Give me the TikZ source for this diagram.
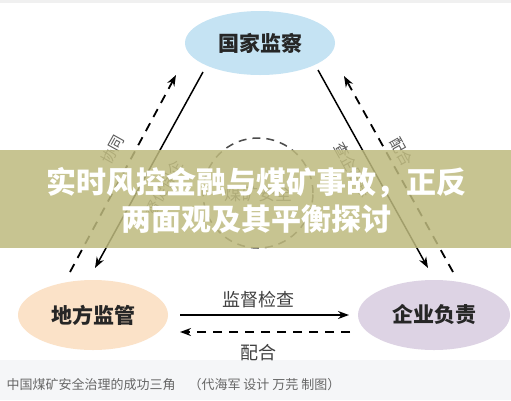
\documentclass[tikz,border=0pt]{standalone}
\usepackage{fontspec}
\newfontfamily\cjk{Noto Sans CJK SC}
\usepackage{xcolor}
\usetikzlibrary{arrows.meta, positioning, shapes.geometric}

\definecolor{topblue}{RGB}{197,227,243}
\definecolor{leftpeach}{RGB}{251,226,200}
\definecolor{rightlav}{RGB}{221,211,228}
\definecolor{bandolive}{RGB}{190,186,126}
\definecolor{capgray}{RGB}{245,246,248}

\begin{document}
\begin{tikzpicture}[x=1pt, y=-1pt,
  party/.style={ellipse, font=\cjk\bfseries\fontsize{21}{21}\selectfont, text=black!85},
  edgetext/.style={font=\cjk\fontsize{15}{15}\selectfont, text=black!65},
  solidarrow/.style={line width=1.5pt, -{Stealth[length=11pt, width=8pt]}},
  dasharrow/.style={line width=1.8pt, dash pattern=on 9pt off 7pt, -{Stealth[length=11pt, width=8pt]}}]
  % Canvas
  \useasboundingbox (0,0) rectangle (511,400);
  \fill[white] (0,0) rectangle (511,400);
  \fill[black!6] (0,0) rectangle (511,3);
  \fill[capgray] (0,360) rectangle (511,400);

  % Three sides
  \node[party, fill=topblue, minimum width=150pt, minimum height=64pt] (state) at (260,43) {国家监察};
  \node[party, fill=leftpeach, minimum width=150pt, minimum height=70pt] (local) at (93,315) {地方监管};
  \node[party, fill=rightlav, minimum width=152pt, minimum height=70pt] (firm) at (434,315) {企业负责};

  % Core circle
  \draw[black!70, line width=1.5pt, dash pattern=on 8pt off 6pt] (258,193) circle (55pt);
  \node[edgetext, font=\cjk\fontsize{17}{17}\selectfont] (core) at (258,194) {煤矿安全};

  % Connector ends
  \coordinate (sl1) at (203,72);  \coordinate (sl2) at (95,268);
  \coordinate (dl1) at (70,272);  \coordinate (dl2) at (176,75);
  \coordinate (sr1) at (318,70);  \coordinate (sr2) at (428,268);
  \coordinate (dr1) at (453,272); \coordinate (dr2) at (344,76);
  \coordinate (sb1) at (180,315); \coordinate (sb2) at (349,315);
  \coordinate (db1) at (350,332); \coordinate (db2) at (180,332);

  % Arrows
  \draw[solidarrow] (sl1) -- (sl2);
  \draw[dasharrow] (dl1) -- (dl2);
  \draw[solidarrow] (sr1) -- (sr2);
  \draw[dasharrow] (dr1) -- (dr2);
  \draw[solidarrow] (sb1) -- (sb2);
  \draw[dasharrow] (db1) -- (db2);

  % Edge labels
  \node[edgetext, rotate=61] (lout) at (113,150) {协同};
  \node[edgetext, rotate=61] (lin) at (164,188) {督促保企};
  \node[edgetext, rotate=-61] (rin) at (353,170) {查企跟踪};
  \node[edgetext, rotate=-61] (rout) at (402,152) {配合};
  \node[edgetext, font=\cjk\fontsize{18}{18}\selectfont, text=black!75] (check) at (258,300) {监督检查};
  \node[edgetext, font=\cjk\fontsize{18}{18}\selectfont, text=black!75] (coop) at (258,353) {配合};

  % Title band
  \fill[bandolive, opacity=0.85] (0,150) rectangle (511,248);
  \node[font=\cjk\bfseries\fontsize{30}{30}\selectfont, text=white] (title1) at (256,183) {实时风控金融与煤矿事故，正反};
  \node[font=\cjk\bfseries\fontsize{30}{30}\selectfont, text=white] (title2) at (256,219) {两面观及其平衡探讨};

  % Caption
  \node[anchor=west, font=\cjk\fontsize{13}{13}\selectfont, text=black!60] (caption) at (3,385) {中国煤矿安全治理的成功三角\hspace{1em}（代海军 设计 万芫 制图）};
\end{tikzpicture}
\end{document}
